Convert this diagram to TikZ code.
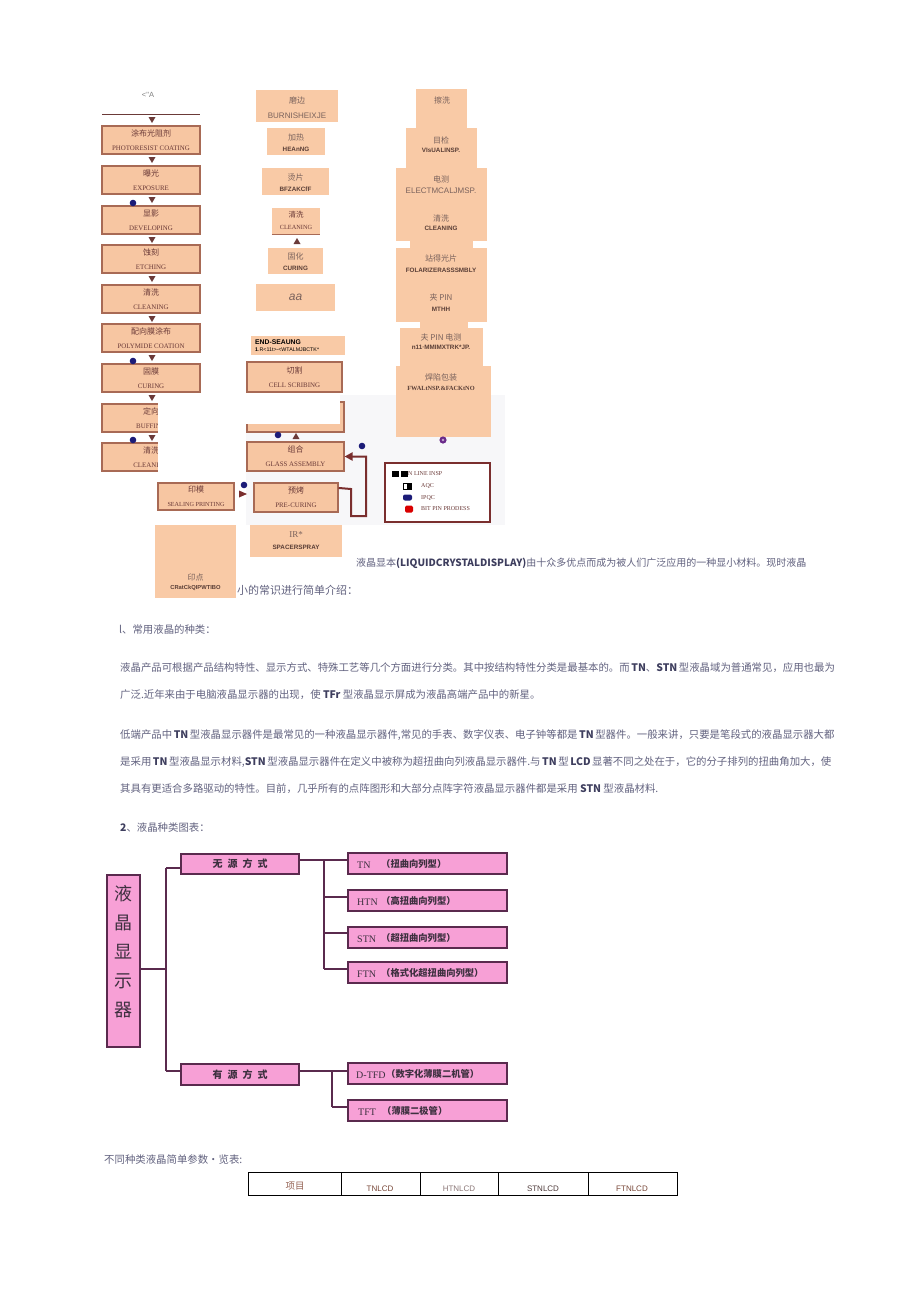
\documentclass[tikz,border=0pt]{standalone}
\usepackage{fontspec}
\setmainfont{Noto Sans CJK SC}
\newfontfamily\sen{Liberation Serif}
\newfontfamily\ssf{Liberation Sans}
\usetikzlibrary{arrows.meta,calc}
\XeTeXlinebreaklocale "zh"
\XeTeXlinebreakskip=0pt plus 2pt minus 0.6pt
\definecolor{peach}{HTML}{F7C6A2}
\definecolor{peachb}{HTML}{F9CAA6}
\definecolor{boxbrd}{HTML}{A86A55}
\definecolor{brn}{HTML}{6B3A38}
\definecolor{navy}{HTML}{1C1C78}
\definecolor{ptxt}{HTML}{62627F}
\definecolor{ptxtd}{HTML}{3E3E5E}
\definecolor{pinkf}{HTML}{F7A0D6}
\definecolor{pinkb}{HTML}{5A2A4E}
\definecolor{pinkt}{HTML}{3E3040}
\definecolor{arrc}{HTML}{7A2E2E}
\definecolor{bgg}{HTML}{F7F7F9}
\definecolor{ntxt}{HTML}{7A625C}
\definecolor{netx}{HTML}{5A3E36}
\definecolor{purp}{HTML}{6A2A8A}
\newcommand\obt[2]{{\fontsize{8}{9}\selectfont #1}\\[2.2pt]{\sen\fontsize{6.9}{8}\selectfont #2}}
\newcommand\bt[1]{\textbf{\color{ptxtd}#1}}
\newcommand\dtri[2]{\fill[brn] ({#1-3.5},{#2-3}) -- ({#1+3.5},{#2-3}) -- ({#1},{#2+3}) -- cycle;}
\newcommand\utri[2]{\fill[brn] ({#1-3.5},{#2+3}) -- ({#1+3.5},{#2+3}) -- ({#1},{#2-3}) -- cycle;}
\tikzset{
 oldbox/.style={draw=boxbrd, fill=peach, line width=1.1pt, inner sep=0pt, align=center, text=brn},
 newbox/.style={fill=peachb, draw=none, inner sep=0pt},
 nz/.style={inner sep=0pt, text=ntxt, font=\fontsize{8}{9}\selectfont},
 ne/.style={inner sep=0pt, text=netx, font=\ssf\bfseries\fontsize{6.3}{7}\selectfont},
 nel/.style={inner sep=0pt, text=ntxt, font=\ssf\fontsize{8}{9}\selectfont},
 ptext/.style={anchor=west, inner sep=0pt, text=ptxt, font=\fontsize{10.4}{12}\selectfont},
 pbox/.style={draw=pinkb, fill=pinkf, line width=1.4pt, inner sep=0pt, text=pinkt},
 pline/.style={draw=pinkb, line width=1.3pt},
 ctl/.style={anchor=west, inner sep=0pt, text=pinkt, font=\sen\fontsize{10}{11}\selectfont},
 ctc/.style={anchor=west, inner sep=0pt, text=pinkt, font=\bfseries\fontsize{9.3}{10}\selectfont},
 legt/.style={anchor=west, inner sep=0pt, font=\sen\fontsize{6}{7}\selectfont, text=brn},
 dot/.style={fill=navy},
}
\begin{document}
\begin{tikzpicture}[x=1pt,y=-1pt]
\useasboundingbox[fill=white] (0,0) rectangle (920,1301);
\fill[bgg] (246,395) rectangle (505,525);

% ---------- left column
\node[inner sep=0pt, text=gray, font=\ssf\fontsize{7.5}{8}\selectfont] (lt) at (148,95) {<"A};
\draw[brn, line width=1pt] (102,114) -- (200,114);
\foreach \yy in {120,160,200,240,279,319,358,398,438} {\dtri{152}{\yy}}
\node[oldbox, minimum width=98pt, minimum height=28pt] (l1) at (151,140) {\obt{涂布光阻剂}{PHOTORESIST COATING}};
\node[oldbox, minimum width=98pt, minimum height=28pt] (l2) at (151,180) {\obt{曝光}{EXPOSURE}};
\node[oldbox, minimum width=98pt, minimum height=28pt] (l3) at (151,220) {\obt{显影}{DEVELOPING}};
\node[oldbox, minimum width=98pt, minimum height=28pt] (l4) at (151,259) {\obt{蚀刻}{ETCHING}};
\node[oldbox, minimum width=98pt, minimum height=28pt] (l5) at (151,299) {\obt{清洗}{CLEANING}};
\node[oldbox, minimum width=98pt, minimum height=28pt] (l6) at (151,338) {\obt{配向膜涂布}{POLYMIDE COATION}};
\node[oldbox, minimum width=98pt, minimum height=28pt] (l7) at (151,378) {\obt{固膜}{CURING}};
\node[oldbox, minimum width=98pt, minimum height=28pt] (l8) at (151,418) {\obt{定向}{BUFFING}};
\node[oldbox, minimum width=98pt, minimum height=28pt] (l9) at (151,457) {\obt{清洗}{CLEANING}};
\fill[dot] (133,203) circle (3.3pt);
\fill[dot] (133,361) circle (3.3pt);
\fill[dot] (133,440) circle (3.3pt);

% ---------- middle column
\node[newbox, minimum width=82pt, minimum height=32pt] (m1) at (297,106) {};
\node[nz] (m1z) at (297,100) {磨边};
\node[nel] (m1e) at (297,116) {BURNISHEIXJE};
\node[newbox, minimum width=58pt, minimum height=27pt] (m2) at (296,141.5) {};
\node[nz] (m2z) at (296,137) {加热};
\node[ne] (m2e) at (296,149) {HEAnNG};
\node[newbox, minimum width=67pt, minimum height=27pt] (m3) at (295.5,181.5) {};
\node[nz] (m3z) at (295.5,177) {烫片};
\node[ne] (m3e) at (295.5,189) {BFZAKCfF};
\node[newbox, minimum width=48pt, minimum height=26pt] (m4) at (296,221) {};
\draw[boxbrd, line width=1.3pt] (m4.south west) -- (m4.south east);
\node[inner sep=0pt, text=brn, font=\fontsize{7.5}{8}\selectfont] (m4z) at (296,215) {清洗};
\node[inner sep=0pt, text=brn, font=\sen\fontsize{6.3}{7}\selectfont] (m4e) at (296,227) {CLEANING};
\utri{297}{241}
\node[newbox, minimum width=55pt, minimum height=26pt] (m5) at (295.5,261) {};
\node[nz] (m5z) at (295.5,256) {固化};
\node[ne] (m5e) at (295.5,268) {CURING};
\node[newbox, minimum width=79pt, minimum height=27pt] (m6) at (295.5,297.5) {};
\node[inner sep=0pt, text=ntxt, font=\ssf\itshape\fontsize{12}{13}\selectfont] (m6t) at (295.5,297) {aa};
\node[newbox, minimum width=94pt, minimum height=19pt] (m7) at (298,345.5) {};
\node[inner sep=0pt, anchor=west, align=left, font=\ssf\fontsize{6.8}{7.5}\selectfont] (m7t) at (255,345.5) {\textbf{END-SEAUNG}\\{\fontsize{5.3}{6}\selectfont\textbf{1}.R<11t>-<WTALMJBCTK*}};
\node[oldbox, minimum width=95pt, minimum height=30pt] (m8) at (294.5,377) {\obt{切割}{CELL SCRIBING}};
\node[oldbox, minimum width=97pt, minimum height=30pt] (m9) at (295.5,417) {};
\node[oldbox, minimum width=97pt, minimum height=29pt] (m10) at (295.5,456.5) {\obt{组合}{GLASS ASSEMBLY}};
\node[oldbox, minimum width=76pt, minimum height=27pt] (m11) at (196,496.5) {{\fontsize{8}{9}\selectfont 印模}\\[2.2pt]{\sen\fontsize{6.2}{8}\selectfont SEALING PRINTING}};
\node[oldbox, minimum width=84pt, minimum height=29pt] (m12) at (296,497.5) {\obt{预烤}{PRE-CURING}};
% white covers
\fill[white] (158,395) rectangle (246,474);
\fill[white] (158,395) rectangle (340,424);
\fill[dot] (278,435) circle (3.3pt);
\utri{296}{436}
\fill[dot] (362,446) circle (3.3pt);
\fill[dot] (244,485) circle (3.3pt);
\fill[arrc] (239,490.5) -- (247,494) -- (239,497.5) -- cycle;
% connector pre-curing -> glass assembly
\coordinate (c1) at (351,489);
\coordinate (c2) at (351,516);
\coordinate (c3) at (366,516);
\coordinate (c4) at (366,456.5);
\draw[arrc, line width=2pt, -{Triangle[length=8pt,width=8pt]}] ($(m12.north east)+(0,5.5)$) -- (c1) -- (c2) -- (c3) -- (c4) -- (m10.east);
\node[newbox, minimum width=92pt, minimum height=32pt] (m13) at (296,541) {};
\node[inner sep=0pt, text=ntxt, font=\sen\fontsize{9}{10}\selectfont] (m13z) at (296,535) {IR*};
\node[ne] (m13e) at (296,547) {SPACERSPRAY};
\node[newbox, minimum width=81pt, minimum height=73pt] (m14) at (195.5,561.5) {};
\node[nz] (m14z) at (195.5,577) {印点};
\node[ne, font=\ssf\bfseries\fontsize{5.8}{6.5}\selectfont] (m14e) at (195.5,588) {CRatCkQIPWTIBO};

% ---------- right column
\node[newbox, minimum width=51pt, minimum height=39pt] (r1) at (441.5,108.5) {};
\node[newbox, minimum width=71pt, minimum height=40pt] (r2) at (441.5,148) {};
\node[newbox, minimum width=91pt, minimum height=73pt] (r3) at (441.5,204.5) {};
\fill[peachb] (410,240) rectangle (473,249);
\node[newbox, minimum width=91pt, minimum height=74pt] (r4) at (441.5,285) {};
\fill[peachb] (420,321) rectangle (468,329);
\node[newbox, minimum width=83pt, minimum height=39pt] (r5) at (441.5,347.5) {};
\node[newbox, minimum width=95pt, minimum height=71pt] (r6) at (443.5,401.5) {};
\node[nz] (r1t) at (442,100) {擦洗};
\node[nz] (r2t) at (441,140) {目检};
\node[ne] (r2e) at (441,150) {VIsUALINSP.};
\node[nz] (r3t) at (441,179) {电测};
\node[nel] (r3e) at (441,191) {ELECTMCALJMSP.};
\node[nz] (r3t2) at (441,218) {清洗};
\node[ne] (r3e2) at (441,228) {CLEANING};
\node[nz] (r4t) at (441,258) {站得光片};
\node[ne] (r4e) at (441,270) {FOLARIZERASSSMBLY};
\node[nz] (r4t2) at (441,297) {夹 PIN};
\node[ne] (r4e2) at (441,309) {MTHH};
\node[nz] (r5t) at (441,337) {夫 PIN 电测};
\node[ne] (r5e) at (441,347) {n11·MMIMXTRK*JP.};
\node[nz] (r6t) at (441,377) {焊陷包装};
\node[ne, font=\sen\bfseries\fontsize{6.3}{7}\selectfont] (r6e) at (441,388) {FWALtNSP.\&FACKtNO};
\fill[purp] (443,440) circle (3.6pt);
\fill[purp!40!white] (443,440) circle (1.4pt);

% ---------- legend
\node[draw=arrc, line width=1.6pt, fill=white, minimum width=105pt, minimum height=59pt, inner sep=0pt] (leg) at (437.5,492.5) {};
\fill[black] (392,471) rectangle (399,477);
\fill[black] (401,471) rectangle (408,477);
\node[legt] (lg1) at (408,474) {N LINE INSP};
\draw[black, line width=0.8pt, fill=white] (403,483) rectangle (411,489);
\fill[black] (407,483) rectangle (411,489);
\node[legt] (lg2) at (421,486) {AQC};
\fill[navy, rounded corners=2pt] (403,494.5) rectangle (412,500.5);
\node[legt] (lg3) at (421,497.5) {IPQC};
\fill[red!85!black, rounded corners=1.5pt] (405,505.5) rectangle (413,512.5);
\node[legt] (lg4) at (421,509) {BIT PIN PRODESS};

% ---------- text
\node[ptext, font=\fontsize{10}{12}\selectfont] (tx0) at (356,563) {\hbox to 455pt{液晶显本\bt{(LIQUIDCRYSTALDISPLAY)}由十众多优点而成为被人们广泛应用的一种显小材料。现时液晶}};
\node[ptext, font=\fontsize{11}{12}\selectfont] (tx1) at (237,590) {小的常识进行简单介绍：};
\node[ptext] (tx2) at (119,630) {l、常用液晶的种类：};
\node[ptext] (tx3) at (120,668) {\hbox to 693pt{液晶产品可根据产品结构特性、显示方式、特殊工艺等几个方面进行分类。其中按结构特性分类是最基本的。而 \bt{TN}、\bt{STN} 型液晶域为普通常见，应用也最为}};
\node[ptext] (tx4) at (120,695) {广泛.近年来由于电脑液晶显示器的出现，使 \bt{TFr} 型液晶显示屏成为液晶高端产品中的新星。};
\node[ptext] (tx5) at (120,735) {\hbox to 707pt{低端产品中 \bt{TN} 型液晶显示器件是最常见的一种液晶显示器件,常见的手表、数字仪表、电子钟等都是 \bt{TN} 型器件。一般来讲，只要是笔段式的液晶显示器大都}};
\node[ptext] (tx6) at (120,762) {\hbox to 706pt{是采用 \bt{TN} 型液晶显示材料,\bt{STN} 型液晶显示器件在定义中被称为超扭曲向列液晶显示器件.与 \bt{TN} 型 \bt{LCD} 显著不同之处在于，它的分子排列的扭曲角加大，使}};
\node[ptext] (tx7) at (120,789) {其具有更适合多路驱动的特性。目前，几乎所有的点阵图形和大部分点阵字符液晶显示器件都是采用 \bt{STN} 型液晶材料.};
\node[ptext] (tx8) at (120,828) {\bt{2}、液晶种类图表：};

% ---------- pink diagram
\node[pbox, minimum width=33pt, minimum height=172pt] (big) at (123.5,961) {};
\node[inner sep=0pt, align=center, text=pinkt, font=\fontsize{18}{29}\selectfont] (bigt) at (123.5,952) {液\\晶\\显\\示\\器};
\node[pbox, minimum width=118pt, minimum height=20pt] (wy) at (240,864) {\bfseries\fontsize{10}{11}\selectfont 无\hspace{5pt}源\hspace{5pt}方\hspace{5pt}式};
\node[pbox, minimum width=118pt, minimum height=21pt] (yy) at (240,1074.5) {\bfseries\fontsize{10}{11}\selectfont 有\hspace{5pt}源\hspace{5pt}方\hspace{5pt}式};
\node[pbox, minimum width=159pt, minimum height=21pt] (c1) at (427.5,863.5) {};
\node[pbox, minimum width=159pt, minimum height=21pt] (c2) at (427.5,900.5) {};
\node[pbox, minimum width=159pt, minimum height=21pt] (c3) at (427.5,937.5) {};
\node[pbox, minimum width=159pt, minimum height=21pt] (c4) at (427.5,972.5) {};
\node[pbox, minimum width=159pt, minimum height=21pt] (c5) at (427.5,1073.5) {};
\node[pbox, minimum width=159pt, minimum height=21pt] (c6) at (427.5,1110.5) {};
\node[ctl] (c1a) at (357,865) {TN};
\node[ctc] (c1b) at (381,864) {（扭曲向列型）};
\node[ctl] (c2a) at (357,902) {HTN};
\node[ctc] (c2b) at (381,901) {（高扭曲向列型）};
\node[ctl] (c3a) at (357,939) {STN};
\node[ctc] (c3b) at (381,938) {（超扭曲向列型）};
\node[ctl] (c4a) at (357,974) {FTN};
\node[ctc] (c4b) at (381,973) {（格式化超扭曲向列型）};
\node[ctl] (c5a) at (356,1075) {D-TFD};
\node[ctc] (c5b) at (386,1074) {（数字化薄膜二机管）};
\node[ctl] (c6a) at (358,1112) {TFT};
\node[ctc] (c6b) at (382,1111) {（薄膜二极管）};
\coordinate (j0) at (166,969);
\coordinate (j1) at (166,868);
\coordinate (j2) at (166,1071);
\coordinate (k0) at (324,860);
\coordinate (k1) at (324,897);
\coordinate (k2) at (324,933);
\coordinate (k3) at (324,969);
\coordinate (k4) at (332,1071);
\coordinate (k5) at (332,1107);
\draw[pline] (big.east |- j0) -- (j0);
\draw[pline] (j1) -- (j2);
\draw[pline] (j1) -- (wy.west |- j1);
\draw[pline] (j2) -- (yy.west |- j2);
\draw[pline] (wy.east |- k0) -- (k0) -- (k3);
\draw[pline] (k0) -- (c1.west |- k0);
\draw[pline] (k1) -- (c2.west |- k1);
\draw[pline] (k2) -- (c3.west |- k2);
\draw[pline] (k3) -- (c4.west |- k3);
\draw[pline] (yy.east |- k4) -- (k4) -- (k5);
\draw[pline] (k4) -- (c5.west |- k4);
\draw[pline] (k5) -- (c6.west |- k5);

% ---------- table
\node[ptext] (tx9) at (104,1160) {不同种类液晶简单参数•览表:};
\draw[black, line width=0.8pt] (248,1172) rectangle (677,1195);
\foreach \xx in {341,420,498,588} {\draw[black, line width=0.8pt] (\xx,1172) -- (\xx,1195);}
\node[inner sep=0pt, text={rgb,255:red,150;green,100;blue,85}, font=\fontsize{9.5}{10}\selectfont] (tb1) at (295,1186) {项目};
\node[inner sep=0pt, text={rgb,255:red,120;green,70;blue,55}, font=\ssf\fontsize{8}{9}\selectfont] (tb2) at (380,1189) {TNLCD};
\node[inner sep=0pt, text={rgb,255:red,140;green,120;blue,120}, font=\ssf\fontsize{8}{9}\selectfont] (tb3) at (459,1189) {HTNLCD};
\node[inner sep=0pt, text={rgb,255:red,80;green,60;blue,60}, font=\ssf\fontsize{8}{9}\selectfont] (tb4) at (543,1189) {STNLCD};
\node[inner sep=0pt, text={rgb,255:red,120;green,70;blue,55}, font=\ssf\fontsize{8}{9}\selectfont] (tb5) at (632,1189) {FTNLCD};
\end{tikzpicture}
\end{document}
